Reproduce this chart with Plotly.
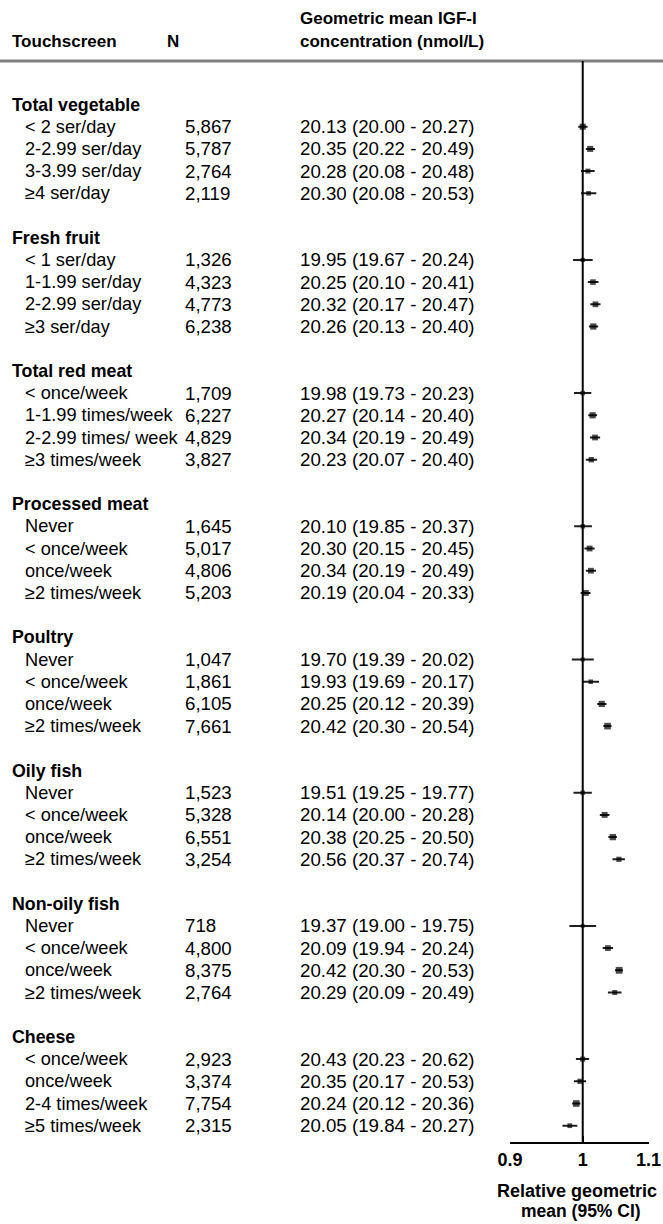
import math
import plotly.graph_objects as go

W, H = 663, 1224
FONT = "Liberation Sans, Arial, Helvetica, sans-serif"

# ---------------- data ----------------
groups = ["Total vegetable", "Fresh fruit", "Total red meat", "Processed meat",
          "Poultry", "Oily fish", "Non-oily fish", "Cheese"]

categories = [
    ["< 2 ser/day", "2-2.99 ser/day", "3-3.99 ser/day", "≥4 ser/day"],
    ["< 1 ser/day", "1-1.99 ser/day", "2-2.99 ser/day", "≥3 ser/day"],
    ["< once/week", "1-1.99 times/week", "2-2.99 times/ week", "≥3 times/week"],
    ["Never", "< once/week", "once/week", "≥2 times/week"],
    ["Never", "< once/week", "once/week", "≥2 times/week"],
    ["Never", "< once/week", "once/week", "≥2 times/week"],
    ["Never", "< once/week", "once/week", "≥2 times/week"],
    ["< once/week", "once/week", "2-4 times/week", "≥5 times/week"],
]

n_values = [
    [5867, 5787, 2764, 2119],
    [1326, 4323, 4773, 6238],
    [1709, 6227, 4829, 3827],
    [1645, 5017, 4806, 5203],
    [1047, 1861, 6105, 7661],
    [1523, 5328, 6551, 3254],
    [718, 4800, 8375, 2764],
    [2923, 3374, 7754, 2315],
]

gm = [
    [20.13, 20.35, 20.28, 20.30],
    [19.95, 20.25, 20.32, 20.26],
    [19.98, 20.27, 20.34, 20.23],
    [20.10, 20.30, 20.34, 20.19],
    [19.70, 19.93, 20.25, 20.42],
    [19.51, 20.14, 20.38, 20.56],
    [19.37, 20.09, 20.42, 20.29],
    [20.43, 20.35, 20.24, 20.05],
]
gm_lo = [
    [20.00, 20.22, 20.08, 20.08],
    [19.67, 20.10, 20.17, 20.13],
    [19.73, 20.14, 20.19, 20.07],
    [19.85, 20.15, 20.19, 20.04],
    [19.39, 19.69, 20.12, 20.30],
    [19.25, 20.00, 20.25, 20.37],
    [19.00, 19.94, 20.30, 20.09],
    [20.23, 20.17, 20.12, 19.84],
]
gm_hi = [
    [20.27, 20.49, 20.48, 20.53],
    [20.24, 20.41, 20.47, 20.40],
    [20.23, 20.40, 20.49, 20.40],
    [20.37, 20.45, 20.49, 20.33],
    [20.02, 20.17, 20.39, 20.54],
    [19.77, 20.28, 20.50, 20.74],
    [19.75, 20.24, 20.53, 20.49],
    [20.62, 20.53, 20.36, 20.27],
]

# relative geometric mean (95% CI) drawn on the right-hand axis
rel = [
    [1.0000, 1.0109, 1.0075, 1.0085],
    [1.0000, 1.0150, 1.0186, 1.0155],
    [1.0000, 1.0145, 1.0180, 1.0125],
    [1.0000, 1.0100, 1.0119, 1.0045],
    [1.0000, 1.0117, 1.0279, 1.0366],
    [1.0000, 1.0323, 1.0446, 1.0538],
    [1.0000, 1.0372, 1.0542, 1.0475],
    [1.0000, 0.9961, 0.9907, 0.9814],
]
rel_lo = [
    [0.9935, 1.0045, 0.9975, 0.9975],
    [0.9860, 1.0075, 1.0110, 1.0090],
    [0.9875, 1.0080, 1.0105, 1.0045],
    [0.9876, 1.0025, 1.0045, 0.9970],
    [0.9843, 0.9995, 1.0213, 1.0305],
    [0.9867, 1.0251, 1.0379, 1.0441],
    [0.9809, 1.0294, 1.0480, 1.0372],
    [0.9902, 0.9873, 0.9848, 0.9711],
]
rel_hi = [
    [1.0070, 1.0179, 1.0174, 1.0199],
    [1.0145, 1.0231, 1.0261, 1.0226],
    [1.0125, 1.0210, 1.0255, 1.0210],
    [1.0134, 1.0174, 1.0194, 1.0114],
    [1.0162, 1.0239, 1.0350, 1.0426],
    [1.0133, 1.0395, 1.0507, 1.0630],
    [1.0196, 1.0449, 1.0599, 1.0578],
    [1.0093, 1.0049, 0.9966, 0.9922],
]

x_ticks = [0.9, 1, 1.1]
x_tick_labels = ["0.9", "1", "1.1"]

# ---------------- layout geometry (pixels) ----------------
ROW0_PX = 104.5     # centre of first group-header row
ROW_PX = 22.2       # row pitch
TOP_PX = 61         # grey header rule
AXIS_PX = 1142      # x axis line
X09_PX, X11_PX = 510, 648.5
X_LABEL_HEAD = 10
X_LABEL_ITEM = 23
X_N = 183
X_N_HEAD = 165
X_GM = 298
FS = 18.7           # numbers
FS_LABEL = 18.2     # category labels
FS_GROUP = 17.8     # bold group headers
FS_HEAD = 17        # bold column headers


def fx(p):
    return p / W


def fy(p):
    return 1 - p / H


def row_of(p):
    return (p - ROW0_PX) / ROW_PX


fig = go.Figure()
annotations = []


def txt(x, y, text, yref="y", size=FS, xanchor="left"):
    annotations.append(dict(x=x, y=y, xref="paper", yref=yref, text=text, showarrow=False,
                            xanchor=xanchor, yanchor="middle",
                            font=dict(size=size, color="black", family=FONT)))


xs, ys, ep, em, sizes = [], [], [], [], []
for g, gname in enumerate(groups):
    base = 6 * g
    txt(fx(X_LABEL_HEAD), base, "<b>" + gname + "</b>", size=FS_GROUP)
    for i in range(4):
        r = base + 1 + i
        txt(fx(X_LABEL_ITEM), r, categories[g][i], size=FS_LABEL)
        txt(fx(X_N), r, f"{n_values[g][i]:,}")
        txt(fx(X_GM), r, f"{gm[g][i]:.2f} ({gm_lo[g][i]:.2f} - {gm_hi[g][i]:.2f})")
        xs.append(rel[g][i])
        ys.append(r)
        ep.append(rel_hi[g][i] - rel[g][i])
        em.append(rel[g][i] - rel_lo[g][i])
        sizes.append(2.5 + 4.3 * (n_values[g][i] / 8375) ** 0.5)

fig.add_trace(go.Scatter(
    x=xs, y=ys, mode="markers",
    marker=dict(symbol="square", color="black", size=sizes, line=dict(width=0)),
    error_x=dict(type="data", symmetric=False, array=ep, arrayminus=em,
                 color="#1e1e1e", thickness=2, width=0),
    showlegend=False, hoverinfo="skip", cliponaxis=False,
))

# column headers
txt(fx(X_LABEL_HEAD), fy(42), "<b>Touchscreen</b>", yref="paper", size=FS_HEAD)
txt(fx(X_N_HEAD), fy(42), "<b>N</b>", yref="paper", size=FS_HEAD)
txt(fx(X_GM), fy(19), "<b>Geometric mean IGF-I</b>", yref="paper", size=FS_HEAD)
txt(fx(X_GM), fy(42), "<b>concentration (nmol/L)</b>", yref="paper", size=FS_HEAD)
# x axis title (two lines)
txt(fx(577), fy(1191), "<b>Relative geometric</b>", yref="paper", size=18, xanchor="center")
txt(fx(581), fy(1211), "<b>mean (95% CI)</b>", yref="paper", size=17.5, xanchor="center")

shapes = [
    dict(type="line", xref="paper", yref="paper", x0=0, x1=1, y0=fy(TOP_PX), y1=fy(TOP_PX),
         line=dict(color="#808080", width=3)),
    dict(type="line", xref="x", yref="paper", x0=1, x1=1, y0=fy(AXIS_PX), y1=fy(TOP_PX),
         line=dict(color="black", width=2)),
]

fig.update_layout(
    width=W, height=H,
    margin=dict(l=0, r=0, t=0, b=0),
    paper_bgcolor="white", plot_bgcolor="white",
    font=dict(family=FONT, size=FS, color="black"),
    xaxis=dict(type="log", range=[math.log10(0.9), math.log10(1.1)],
               domain=[fx(X09_PX), fx(X11_PX)], anchor="y",
               showline=True, linecolor="black", linewidth=2,
               ticks="inside", ticklen=6, tickwidth=2, tickcolor="black",
               tickvals=x_ticks, ticktext=["<b>" + t + "</b>" for t in x_tick_labels],
               tickfont=dict(size=18, family=FONT, color="black"),
               ticklabeloverflow="allow",
               showgrid=False, zeroline=False, fixedrange=True, automargin=False),
    yaxis=dict(range=[row_of(AXIS_PX), row_of(TOP_PX)],
               domain=[fy(AXIS_PX), fy(TOP_PX)], visible=False,
               showgrid=False, zeroline=False, fixedrange=True),
    annotations=annotations,
    shapes=shapes,
    showlegend=False,
)

# remove the default 8px page margin so the 663x1224 figure fills the window exactly
fig.write_html(
    "out.html",
    post_script="document.body.style.margin='0';"
                "document.documentElement.style.overflow='hidden';",
)
